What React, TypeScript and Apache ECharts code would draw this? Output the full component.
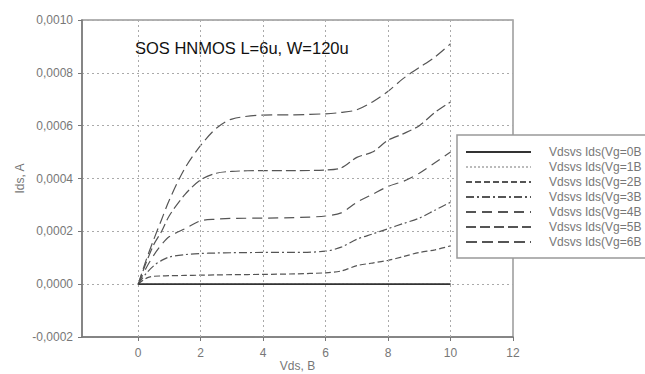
import React, { useEffect, useRef } from "react";
import * as echarts from "echarts";

const vds = [0, 0.25, 0.5, 0.75, 1, 1.5, 2, 2.5, 3, 4, 5, 6, 6.5, 7, 7.5, 8, 8.5, 9, 9.5, 10];
const ids0 = [0, 0, 0, 0, 0, 0, 0, 0, 0, 0, 0, 0, 0, 0, 0, 0, 0, 0, 0, 0];
const ids1 = [0, 0, 0, 0, 0, 0, 0, 0, 0, 0, 0, 0, 0, 0, 0, 0, 0, 0, 0, 0];
const ids2 = [0, 0.000022, 0.00003, 0.000031, 0.000032, 0.000033, 0.000034, 0.000035, 0.000036, 0.000037, 0.000039, 0.000043, 0.00005, 0.00007, 0.00008, 0.00009, 0.000105, 0.00012, 0.00013, 0.000145];
const ids3 = [0, 0.00004, 0.00007, 0.00009, 0.000103, 0.000112, 0.000116, 0.000118, 0.000119, 0.00012, 0.00012, 0.000125, 0.00014, 0.00017, 0.00019, 0.00021, 0.00023, 0.00025, 0.00028, 0.00031];
const ids4 = [0, 0.00006, 0.00011, 0.00015, 0.00018, 0.00021, 0.00024, 0.000246, 0.000249, 0.00025, 0.000252, 0.000258, 0.00027, 0.00031, 0.00034, 0.00037, 0.00039, 0.00042, 0.00046, 0.0005];
const ids5 = [0, 0.00008, 0.00015, 0.0002, 0.00026, 0.00034, 0.000395, 0.00042, 0.000427, 0.00043, 0.00043, 0.000432, 0.00044, 0.00048, 0.0005, 0.000545, 0.00057, 0.0006, 0.00065, 0.00069];
const ids6 = [0, 0.00009, 0.00017, 0.000245, 0.00032, 0.00044, 0.000525, 0.00059, 0.000625, 0.00064, 0.000641, 0.000645, 0.00065, 0.00066, 0.00069, 0.00073, 0.00078, 0.00082, 0.00086, 0.00091];

const seriesNames = [
  "Vdsvs Ids(Vg=0B",
  "Vdsvs Ids(Vg=1B",
  "Vdsvs Ids(Vg=2B",
  "Vdsvs Ids(Vg=3B",
  "Vdsvs Ids(Vg=4B",
  "Vdsvs Ids(Vg=5B",
  "Vdsvs Ids(Vg=6B",
];
const seriesValues = [ids0, ids1, ids2, ids3, ids4, ids5, ids6];
const xTicks = [0, 2, 4, 6, 8, 10, 12];
const xGrid = [0, 2, 4, 6, 8, 10];
const title = "SOS HNMOS L=6u, W=120u";

const lineStyles: any[] = [
  { color: "#333", width: 1.6, type: "solid" },
  { color: "#bbb", width: 1.2, type: [2, 2] },
  { color: "#555", width: 1.2, type: [6, 3] },
  { color: "#555", width: 1.2, type: [8, 3, 2, 3] },
  { color: "#555", width: 1.2, type: [10, 6] },
  { color: "#555", width: 1.2, type: [10, 4] },
  { color: "#555", width: 1.2, type: [11, 5] },
];

const sans = "'Liberation Sans', Arial, sans-serif";

export default function App() {
  const ref = useRef<HTMLDivElement>(null);
  useEffect(() => {
    const chart = echarts.init(ref.current!, null, { renderer: "svg" });
    const series: any[] = seriesNames.map((name, i) => ({
      name,
      type: "line",
      data: vds.map((x, j) => [x, seriesValues[i][j]]),
      showSymbol: false,
      symbol: "none",
      smooth: 0.3,
      lineStyle: lineStyles[i],
      itemStyle: { color: lineStyles[i].color },
      z: 3 + (i === 0 ? 1 : 0),
    }));
    series.push({
      type: "line",
      data: [],
      silent: true,
      markLine: {
        silent: true,
        symbol: "none",
        label: { show: false },
        lineStyle: { color: "#aaa", type: [2, 3], width: 1 },
        data: xGrid.map((v) => ({ xAxis: v })),
      },
    });
    chart.setOption({
      animation: false,
      backgroundColor: "#fff",
      grid: {
        left: 82,
        top: 20,
        width: 431,
        height: 317,
        outerBoundsMode: "none",
        containLabel: false,
        show: true,
        borderColor: "#999",
        borderWidth: 1.5,
      },
      xAxis: {
        type: "value",
        min: -1.8,
        max: 12,
        name: "Vds, B",
        nameLocation: "middle",
        nameGap: 23,
        nameMoveOverlap: false,
        nameTextStyle: { color: "#777", fontSize: 12, fontFamily: sans, lineHeight: 12 },
        axisLine: { show: true, onZero: false, lineStyle: { color: "#777", width: 1.5 } },
        axisTick: { show: true, customValues: xTicks, length: 4, lineStyle: { color: "#777" } },
        axisLabel: {
          customValues: xTicks,
          color: "#777",
          fontSize: 12,
          fontFamily: sans,
          margin: 10,
        },
        splitLine: { show: false },
      },
      yAxis: {
        type: "value",
        min: -0.0002,
        max: 0.001,
        interval: 0.0002,
        name: "Ids, A",
        nameLocation: "middle",
        nameGap: 56,
        nameRotate: 90,
        nameMoveOverlap: false,
        nameTextStyle: { color: "#777", fontSize: 12, fontFamily: sans },
        axisLine: { show: true, onZero: false, lineStyle: { color: "#777", width: 1.5 } },
        axisTick: { show: true, length: 4, lineStyle: { color: "#777" } },
        axisLabel: {
          color: "#777",
          fontSize: 12,
          fontFamily: sans,
          margin: 9,
          formatter: (v: number) => v.toFixed(4).replace(".", ","),
        },
        splitLine: { show: true, lineStyle: { color: "#aaa", type: [2, 3], width: 1 } },
      },
      legend: {
        orient: "vertical",
        left: 457,
        top: 135,
        data: seriesNames,
        backgroundColor: "#fff",
        borderColor: "#999",
        borderWidth: 1.5,
        padding: [11, 10, 10, 8],
        itemWidth: 65,
        itemHeight: 12,
        itemGap: 3,
        selectedMode: false,
        itemStyle: { opacity: 0 },
        textStyle: {
          color: "#777",
          fontSize: 12,
          fontFamily: sans,
          lineHeight: 12,
          padding: [0, 0, 0, 13],
        },
      },
      graphic: [
        {
          type: "text",
          left: 135,
          top: 39,
          style: {
            text: title,
            fill: "#111",
            fontSize: 16.5,
            fontFamily: sans,
          },
        },
      ],
      series,
    });
    return () => chart.dispose();
  }, []);
  return (
    <div
      ref={ref}
      style={{ position: "fixed", left: 0, top: 0, width: 645, height: 374 }}
    />
  );
}
